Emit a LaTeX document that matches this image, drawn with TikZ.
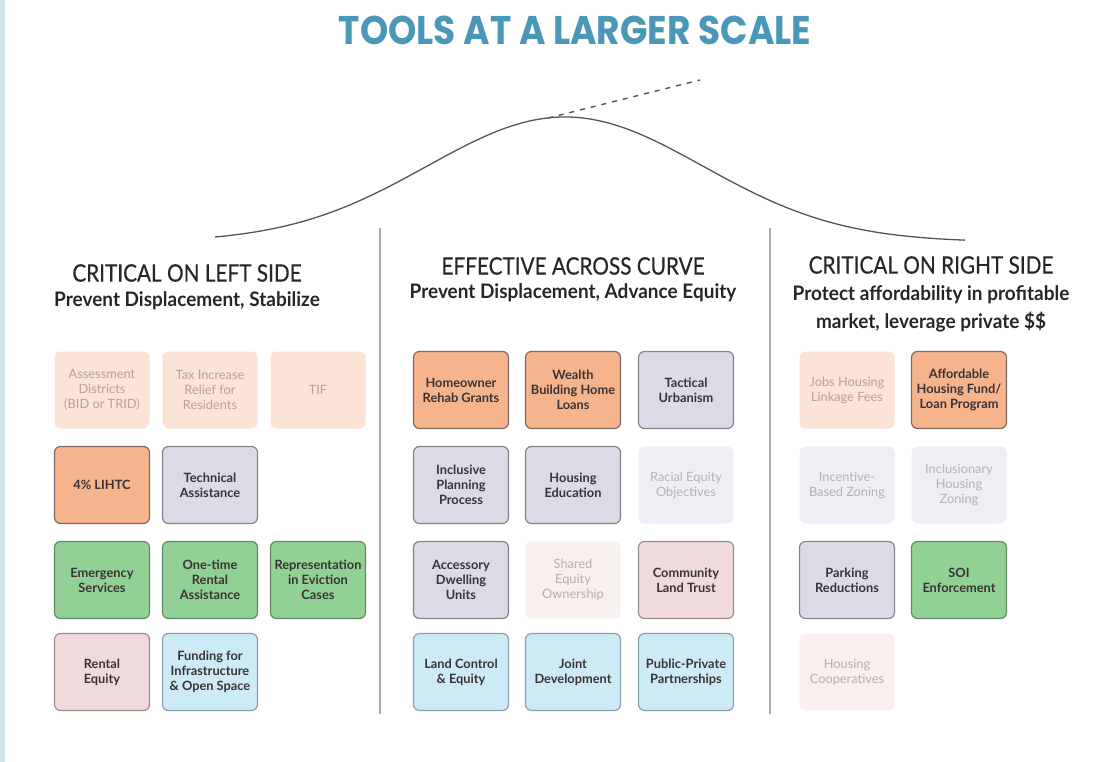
\documentclass[tikz,border=0pt]{standalone}
\usepackage{fontspec}
\setmainfont{Lato}
\newfontfamily\titlefont[FakeStretch=0.9]{Poppins}
\newfontfamily\headfont[FakeStretch=0.865,FakeBold=0.4]{Lato}
\newfontfamily\subfont[FakeStretch=0.95]{Lato}
\newfontfamily\boxfont{Lato}
\definecolor{titleblue}{HTML}{4A97B8}
\definecolor{stripblue}{HTML}{CFE2ED}
\definecolor{curvegray}{HTML}{555555}
\definecolor{rulegray}{HTML}{ABABAB}
\definecolor{darktext}{HTML}{3A3236}
\definecolor{orangeFill}{HTML}{F6B48C}
\definecolor{orangeEdge}{HTML}{7E6A60}
\definecolor{peachFill}{HTML}{FBE3D6}
\definecolor{peachText}{HTML}{B3A49A}
\definecolor{lilacFill}{HTML}{DCDAE6}
\definecolor{lilacEdge}{HTML}{85838E}
\definecolor{mistFill}{HTML}{EFEEF3}
\definecolor{mistText}{HTML}{B4B2BA}
\definecolor{greenFill}{HTML}{92D196}
\definecolor{greenEdge}{HTML}{5F8A62}
\definecolor{roseFill}{HTML}{F0DADB}
\definecolor{roseEdge}{HTML}{9A8E90}
\definecolor{blushFill}{HTML}{F8EFEF}
\definecolor{blushText}{HTML}{B8AEB0}
\definecolor{skyFill}{HTML}{CDEAF7}
\definecolor{skyEdge}{HTML}{8AA3AD}

\begin{document}
\begin{tikzpicture}[x=1pt,y=-1pt,
  bigtitle/.style={text=titleblue,font=\titlefont\bfseries\fontsize{40}{44}\selectfont},
  heading/.style={text=black!85,font=\headfont\fontsize{24}{28}\selectfont},
  subhead/.style={text=black!85,align=center,font=\subfont\bfseries\fontsize{20}{28}\selectfont},
  curve/.style={draw=curvegray,line width=1.3pt},
  divider/.style={draw=rulegray,line width=2pt},
  tool/.style={rounded corners=6pt,minimum width=95pt,minimum height=77pt,
    align=center,inner sep=1pt,line width=1.2pt,
    font=\boxfont\fontsize{12.8}{15}\selectfont},
  strongorange/.style={tool,fill=orangeFill,draw=orangeEdge,text=darktext,font=\boxfont\bfseries\fontsize{12.8}{15}\selectfont},
  softorange/.style={tool,fill=peachFill,text=peachText},
  lilac/.style={tool,fill=lilacFill,draw=lilacEdge,text=darktext,font=\boxfont\bfseries\fontsize{12.8}{15}\selectfont},
  softlilac/.style={tool,fill=mistFill,text=mistText},
  green/.style={tool,fill=greenFill,draw=greenEdge,text=darktext,font=\boxfont\bfseries\fontsize{12.8}{15}\selectfont},
  rose/.style={tool,fill=roseFill,draw=roseEdge,text=darktext,font=\boxfont\bfseries\fontsize{12.8}{15}\selectfont},
  softrose/.style={tool,fill=blushFill,text=blushText},
  sky/.style={tool,fill=skyFill,draw=skyEdge,text=darktext,font=\boxfont\bfseries\fontsize{12.8}{15}\selectfont}]
\useasboundingbox (0,0) rectangle (1102,762);
% Side strip
\fill[stripblue] (0,0) rectangle (5,762);
% Title
\node[bigtitle] (title) at (575,30) {TOOLS AT A LARGER SCALE};
% Bell curve and tangent
\draw[curve] plot[domain=215:965,samples=150,smooth] (\x,{242-125*exp(-((\x-565)/138)^2/2)});
\draw[curve,line width=1.4pt,dash pattern=on 5pt off 6pt] (548,118) -- (700,80);
% Column dividers
\draw[divider] (380,228) -- (380,714);
\draw[divider] (770,228) -- (770,714);
% Column headings
\node[heading] (lefthead) at (187,273) {CRITICAL ON LEFT SIDE};
\node[subhead] (leftsub) at (187,301) {Prevent Displacement, Stabilize};
\node[heading] (midhead) at (573,266) {EFFECTIVE ACROSS CURVE};
\node[subhead] (midsub) at (573,293) {Prevent Displacement, Advance Equity};
\node[heading] (righthead) at (931,265) {CRITICAL ON RIGHT SIDE};
\node[subhead,anchor=north] (rightsub) at (931,282) {Protect affordability in profitable\\market, leverage private \$\$};
% Left side tools
\node[softorange] (assess) at (102,390) {Assessment\\Districts\\(BID or TRID)};
\node[softorange] (taxrelief) at (210,390) {Tax Increase\\Relief for\\Residents};
\node[softorange] (tif) at (318,390) {TIF};
\node[strongorange] (lihtc) at (102,485) {4\% LIHTC};
\node[lilac] (techassist) at (210,485) {Technical\\Assistance};
\node[green] (emergency) at (102,580) {Emergency\\Services};
\node[green] (onetime) at (210,580) {One-time\\Rental\\Assistance};
\node[green] (eviction) at (318,580) {Representation\\in Eviction\\Cases};
\node[rose] (rentaleq) at (102,672) {Rental\\Equity};
\node[sky] (funding) at (210,672) {Funding for\\Infrastructure\\\& Open Space};
% Middle tools
\node[strongorange] (rehab) at (461,390) {Homeowner\\Rehab Grants};
\node[strongorange] (wealth) at (573,390) {Wealth\\Building Home\\Loans};
\node[lilac] (tactical) at (686,390) {Tactical\\Urbanism};
\node[lilac] (inclusive) at (461,485) {Inclusive\\Planning\\Process};
\node[lilac] (houseedu) at (573,485) {Housing\\Education};
\node[softlilac] (racialeq) at (686,485) {Racial Equity\\Objectives};
\node[lilac] (adu) at (461,580) {Accessory\\Dwelling\\Units};
\node[softrose] (sharedeq) at (573,580) {Shared\\Equity\\Ownership};
\node[rose] (clt) at (686,580) {Community\\Land Trust};
\node[sky] (landctrl) at (461,672) {Land Control\\\& Equity};
\node[sky] (jointdev) at (573,672) {Joint\\Development};
\node[sky] (ppp) at (686,672) {Public-Private\\Partnerships};
% Right side tools
\node[softorange] (linkage) at (847,390) {Jobs Housing\\Linkage Fees};
\node[strongorange] (ahfund) at (959,390) {Affordable\\Housing Fund/\\Loan Program};
\node[softlilac] (incentive) at (847,485) {Incentive-\\Based Zoning};
\node[softlilac] (inclusionary) at (959,485) {Inclusionary\\Housing\\Zoning};
\node[lilac] (parking) at (847,580) {Parking\\Reductions};
\node[green] (soi) at (959,580) {SOI\\Enforcement};
\node[softrose] (coops) at (847,672) {Housing\\Cooperatives};
\end{tikzpicture}
\end{document}
